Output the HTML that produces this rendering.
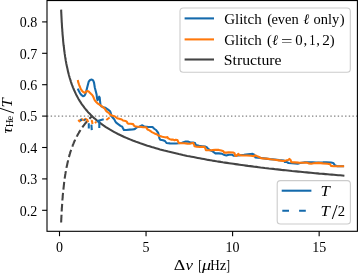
<!DOCTYPE html>
<html><head><meta charset="utf-8"><style>
html,body{margin:0;padding:0;background:#fff;}
svg{display:block;will-change:transform;}
.tg{opacity:0.999;}
.t{font-family:"Liberation Serif",serif;font-size:14px;fill:#000;}
</style></head><body>
<svg width="358" height="273" viewBox="0 0 358 273">
<rect width="358" height="273" fill="#fff"/>
<defs><clipPath id="ax"><rect x="47" y="0.5" width="310.4" height="230.8"/></clipPath></defs>
<line x1="47" y1="116.10" x2="357.4" y2="116.10" stroke="#808080" stroke-width="1.39" stroke-dasharray="1.39,2.29"/>
<g clip-path="url(#ax)" fill="none" stroke-linejoin="round" stroke-linecap="butt">
<polyline points="61.1,9.7 61.2,10.7 61.2,11.8 61.3,12.8 61.3,13.8 61.4,14.8 61.4,15.8 61.5,16.8 61.5,17.8 61.6,18.8 61.6,19.8 61.7,20.9 61.7,21.9 61.8,22.9 61.9,23.9 61.9,24.8 62.0,25.8 62.0,26.8 62.1,27.8 62.2,28.8 62.3,29.8 62.3,30.8 62.4,31.8 62.5,32.7 62.5,33.7 62.6,34.7 62.7,35.7 62.8,36.7 62.9,37.6 63.0,38.6 63.1,39.6 63.1,40.5 63.2,41.5 63.3,42.5 63.4,43.4 63.5,44.4 63.6,45.3 63.8,46.3 63.9,47.2 64.0,48.2 64.1,49.1 64.2,50.1 64.3,51.0 64.5,52.0 64.6,52.9 64.7,53.9 64.9,54.8 65.0,55.7 65.1,56.7 65.3,57.6 65.4,58.5 65.6,59.5 65.7,60.4 65.9,61.3 66.1,62.2 66.2,63.2 66.4,64.1 66.6,65.0 66.8,65.9 67.0,66.8 67.2,67.7 67.4,68.6 67.6,69.5 67.8,70.5 68.0,71.4 68.2,72.3 68.4,73.2 68.7,74.1 68.9,75.0 69.1,75.8 69.4,76.7 69.6,77.6 69.9,78.5 70.2,79.4 70.5,80.3 70.7,81.2 71.0,82.1 71.3,82.9 71.6,83.8 71.9,84.7 72.3,85.6 72.6,86.4 72.9,87.3 73.3,88.2 73.6,89.0 74.0,89.9 74.4,90.8 74.8,91.6 75.2,92.5 75.6,93.3 76.0,94.2 76.4,95.0 76.9,95.9 77.3,96.7 77.8,97.6 78.2,98.4 78.7,99.3 79.2,100.1 79.7,100.9 80.3,101.8 80.8,102.6 81.3,103.4 81.9,104.3 82.5,105.1 83.1,105.9 83.7,106.7 84.3,107.6 85.0,108.4 85.6,109.2 86.3,110.0 87.0,110.8 87.7,111.7 88.4,112.5 89.2,113.3 90.0,114.1 90.8,114.9 91.6,115.7 92.4,116.5 93.2,117.3 94.1,118.1 95.0,118.8 97.1,120.6 99.2,122.3 101.3,123.9 103.4,125.4 105.5,126.8 107.6,128.1 109.7,129.4 111.8,130.6 113.9,131.8 115.9,132.9 118.0,134.0 120.1,135.0 122.2,136.0 124.3,137.0 126.4,137.9 128.5,138.8 130.6,139.6 132.7,140.5 134.8,141.3 136.9,142.1 139.0,142.8 141.1,143.6 143.2,144.3 145.3,145.0 147.4,145.7 149.5,146.3 151.6,147.0 153.7,147.6 155.8,148.2 157.9,148.8 160.0,149.4 162.1,149.9 164.2,150.5 166.3,151.0 168.3,151.6 170.4,152.1 172.5,152.6 174.6,153.1 176.7,153.6 178.8,154.1 180.9,154.5 183.0,155.0 185.1,155.4 187.2,155.9 189.3,156.3 191.4,156.7 193.5,157.1 195.6,157.5 197.7,157.9 199.8,158.3 201.9,158.7 204.0,159.1 206.1,159.5 208.2,159.9 210.3,160.2 212.4,160.6 214.5,160.9 216.6,161.3 218.7,161.6 220.8,161.9 222.8,162.3 224.9,162.6 227.0,162.9 229.1,163.2 231.2,163.5 233.3,163.8 235.4,164.1 237.5,164.4 239.6,164.7 241.7,165.0 243.8,165.3 245.9,165.6 248.0,165.9 250.1,166.1 252.2,166.4 254.3,166.7 256.4,166.9 258.5,167.2 260.6,167.5 262.7,167.7 264.8,168.0 266.9,168.2 269.0,168.5 271.1,168.7 273.2,168.9 275.3,169.2 277.3,169.4 279.4,169.6 281.5,169.9 283.6,170.1 285.7,170.3 287.8,170.5 289.9,170.7 292.0,171.0 294.1,171.2 296.2,171.4 298.3,171.6 300.4,171.8 302.5,172.0 304.6,172.2 306.7,172.4 308.8,172.6 310.9,172.8 313.0,173.0 315.1,173.2 317.2,173.4 319.3,173.6 321.4,173.7 323.5,173.9 325.6,174.1 327.7,174.3 329.7,174.5 331.8,174.6 333.9,174.8 336.0,175.0 338.1,175.2 340.2,175.3 342.3,175.5 344.4,175.7" stroke="#444444" stroke-width="2.08"/>
<polyline points="61.1,222.5 61.2,221.5 61.2,220.5 61.3,219.5 61.3,218.5 61.4,217.5 61.4,216.5 61.5,215.5 61.5,214.6 61.6,213.6 61.6,212.6 61.7,211.6 61.7,210.6 61.8,209.7 61.8,208.7 61.9,207.7 62.0,206.7 62.0,205.8 62.1,204.8 62.2,203.8 62.2,202.9 62.3,201.9 62.4,200.9 62.4,200.0 62.5,199.0 62.6,198.1 62.7,197.1 62.7,196.2 62.8,195.2 62.9,194.3 63.0,193.3 63.1,192.4 63.2,191.4 63.3,190.5 63.4,189.6 63.5,188.6 63.6,187.7 63.7,186.8 63.8,185.8 63.9,184.9 64.0,184.0 64.1,183.0 64.2,182.1 64.3,181.2 64.4,180.3 64.6,179.3 64.7,178.4 64.8,177.5 65.0,176.6 65.1,175.7 65.2,174.8 65.4,173.9 65.5,173.0 65.7,172.1 65.9,171.2 66.0,170.3 66.2,169.4 66.3,168.5 66.5,167.6 66.7,166.7 66.9,165.8 67.1,164.9 67.3,164.0 67.5,163.1 67.7,162.2 67.9,161.3 68.1,160.5 68.3,159.6 68.5,158.7 68.7,157.8 69.0,157.0 69.2,156.1 69.5,155.2 69.7,154.3 70.0,153.5 70.2,152.6 70.5,151.7 70.8,150.9 71.1,150.0 71.4,149.2 71.7,148.3 72.0,147.5 72.3,146.6 72.6,145.8 72.9,144.9 73.3,144.1 73.6,143.2 74.0,142.4 74.3,141.5 74.7,140.7 75.1,139.9 75.5,139.0 75.9,138.2 76.3,137.4 76.7,136.5 77.2,135.7 77.6,134.9 78.1,134.0 78.6,133.2 79.0,132.4 79.5,131.6 80.0,130.8 80.6,130.0 81.1,129.1 81.6,128.3 82.2,127.5 82.8,126.7 83.4,125.9 84.0,125.1 84.6,124.3 85.2,123.5 85.9,122.7 86.5,121.9 87.2,121.1 87.9,120.3 88.6,119.5 89.4,118.7 90.1,118.0 90.9,117.2 91.7,116.4" stroke="#444444" stroke-width="2.08" stroke-dasharray="7.7,3.3"/>
<path d="M78.2,120.0 L79.7,121.4 L80.8,120.0 L81.9,119.2 L83.3,120.0 L84.4,120.2 L85.5,118.9 L87.4,120.0 L88.1,122.2 M91.2,120.3 L92.0,121.0 L92.5,124.0 M94.9,123.0 L96.4,121.9 M106.3,120.0 L109.6,117.5" stroke="#ff780b" stroke-width="2.08"/>
<path d="M80.4,118.9 L81.5,121.1 M84.1,119.2 L85.5,120.3 M88.8,123.3 L88.8,128.4 M91.4,124.7 L91.8,130.2 M97.1,121.5 L99.3,120.4 L103.7,119.3 M99.3,120.4 L99.3,128.0" stroke="#146aac" stroke-width="2.08"/>
<polyline points="77.8,88.7 78.6,90.5 80.0,93.1 81.3,94.9 83.0,96.2 84.4,95.8 85.2,94.5 86.1,91.8 87.0,88.3 87.9,84.8 88.7,81.7 90.1,80.0 91.8,79.5 93.1,80.4 94.0,82.5 94.8,87.5 95.7,91.0 96.6,94.5 97.0,98.1 97.5,100.3 98.4,98.5 99.2,96.7 99.7,97.5 100.1,101.6 100.5,105.1 101.4,106.4 103.2,107.3 104.5,107.5 105.8,108.0 106.9,108.8 108.4,109.9 109.9,111.0 110.6,112.5 111.2,115.0 111.8,116.5 113.5,118.5 114.3,119.4 115.4,121.6 116.8,123.2 118.8,124.6 120.5,125.8 122.2,126.7 123.0,128.3 123.9,130.0 126.4,130.0 129.7,129.6 132.7,129.4 134.3,129.2 135.2,128.8 137.0,127.3 139.4,126.8 140.2,126.2 142.3,125.3 143.6,126.2 145.0,126.6 148.5,127.0 152.5,127.0 153.5,128.0 154.6,129.0 156.1,130.0 157.3,131.6 158.2,132.9 159.0,136.2 159.4,138.3 160.2,139.8 163.0,140.3 165.0,141.0 166.5,143.0 170.0,143.4 174.0,143.5 176.0,143.5 179.0,143.3 182.0,142.8 185.7,141.6 188.3,141.6 190.3,142.5 192.9,142.5 195.0,142.9 195.8,145.0 199.1,145.8 202.0,146.2 205.4,146.6 207.0,147.5 207.9,148.4 210.0,150.3 212.1,150.9 213.7,152.2 215.4,153.4 218.8,153.4 222.1,153.8 224.6,155.1 226.3,155.5 228.8,154.7 232.0,154.7 233.4,155.6 236.0,155.8 240.0,155.2 244.0,154.8 248.0,154.2 252.7,153.9 254.3,154.6 255.3,157.5 258.0,157.6 261.4,158.0 266.0,158.6 270.0,159.1 274.8,159.5 279.0,160.1 284.0,160.5 284.8,162.0 286.5,161.8 288.5,163.0 292.0,163.3 297.7,163.8 300.0,163.0 305.0,162.2 309.5,162.3 312.8,162.4 316.0,162.5 319.4,162.5 322.9,162.4 326.5,162.2 331.0,162.5 333.2,162.9 334.1,164.1 335.0,165.4 336.9,166.1 344.0,166.3" stroke="#146aac" stroke-width="2.08"/>
<polyline points="77.8,80.0 78.2,82.2 79.1,84.8 80.0,87.0 80.8,89.2 82.2,91.0 83.5,92.3 84.8,92.7 86.1,91.8 87.4,91.0 88.7,91.4 89.6,92.5 90.9,93.8 92.2,95.0 93.1,96.3 94.0,98.5 94.8,100.3 96.2,102.0 97.5,103.3 98.8,104.2 100.1,105.1 101.9,106.4 103.0,107.2 104.0,108.0 105.1,109.1 105.8,110.6 106.9,111.7 108.0,112.4 109.1,113.2 109.9,114.3 111.0,115.0 112.5,115.8 115.0,116.5 117.2,118.3 120.1,119.0 121.8,119.5 123.0,120.5 125.5,121.0 126.8,121.6 127.4,123.0 128.0,123.6 130.6,123.7 133.1,124.1 134.0,125.6 134.8,126.2 137.3,126.7 139.8,126.7 141.5,126.9 143.1,127.2 144.8,127.2 146.5,127.6 147.3,129.3 148.1,129.7 149.4,130.4 150.6,131.2 151.9,132.1 153.5,132.9 155.2,133.7 156.5,134.2 157.7,135.0 159.0,135.8 160.7,136.2 162.3,136.7 164.0,137.1 166.1,137.5 167.4,137.1 168.2,138.3 169.9,139.2 171.1,139.6 173.2,139.6 174.5,140.2 175.7,139.7 177.4,140.0 178.2,141.6 178.6,142.9 180.7,143.1 184.1,143.3 187.4,143.6 189.9,143.7 191.6,143.3 193.3,142.9 194.1,144.6 194.5,146.2 196.6,146.7 200.0,146.9 204.5,146.9 205.4,148.4 205.8,150.1 208.7,150.2 212.1,150.1 215.4,149.9 218.8,149.9 221.3,150.5 223.4,151.3 224.2,152.6 226.3,152.6 228.8,152.4 233.4,152.5 234.6,153.4 235.0,155.5 236.3,155.9 238.0,154.2 238.4,153.8 239.2,155.1 242.6,155.5 246.8,155.5 251.0,155.7 253.9,156.2 255.0,155.4 256.5,155.8 258.0,156.6 259.7,157.2 261.0,158.2 263.0,158.4 266.4,158.6 270.6,159.3 274.8,159.7 279.0,160.4 283.1,161.0 285.7,160.6 288.1,160.1 289.4,158.9 290.6,160.1 291.4,162.2 294.4,162.4 298.6,162.6 302.8,162.7 307.0,162.6 308.6,163.4 311.1,163.8 313.7,163.2 318.5,162.9 322.9,163.4 327.4,163.8 330.1,164.1 331.0,165.9 333.7,166.3 339.0,166.3 344.2,166.2" stroke="#ff780b" stroke-width="2.08"/>
</g>
<rect x="47" y="0.55" width="310.4" height="230.75" fill="none" stroke="#000" stroke-width="1.1"/>
<line x1="42.1" y1="210.30" x2="47" y2="210.30" stroke="#000" stroke-width="1.1"/>
<line x1="42.1" y1="178.90" x2="47" y2="178.90" stroke="#000" stroke-width="1.1"/>
<line x1="42.1" y1="147.50" x2="47" y2="147.50" stroke="#000" stroke-width="1.1"/>
<line x1="42.1" y1="116.10" x2="47" y2="116.10" stroke="#000" stroke-width="1.1"/>
<line x1="42.1" y1="84.70" x2="47" y2="84.70" stroke="#000" stroke-width="1.1"/>
<line x1="42.1" y1="53.30" x2="47" y2="53.30" stroke="#000" stroke-width="1.1"/>
<line x1="42.1" y1="21.90" x2="47" y2="21.90" stroke="#000" stroke-width="1.1"/>
<line x1="59.50" y1="231.3" x2="59.50" y2="236.2" stroke="#000" stroke-width="1.1"/>
<line x1="146.05" y1="231.3" x2="146.05" y2="236.2" stroke="#000" stroke-width="1.1"/>
<line x1="232.60" y1="231.3" x2="232.60" y2="236.2" stroke="#000" stroke-width="1.1"/>
<line x1="319.15" y1="231.3" x2="319.15" y2="236.2" stroke="#000" stroke-width="1.1"/>
<rect x="180" y="8" width="170.3" height="64.2" rx="3.3" fill="#fff" fill-opacity="0.8" stroke="#cccccc" stroke-width="1.1"/>
<line x1="184.6" y1="18.4" x2="214" y2="18.4" stroke="#146aac" stroke-width="2.08"/>
<line x1="184.6" y1="39.4" x2="214" y2="39.4" stroke="#ff780b" stroke-width="2.08"/>
<line x1="184.6" y1="59.5" x2="214" y2="59.5" stroke="#444444" stroke-width="2.08"/>
<rect x="277.2" y="180.6" width="73.2" height="43.4" rx="3.3" fill="#fff" fill-opacity="0.8" stroke="#cccccc" stroke-width="1.1"/>
<line x1="281.7" y1="190.7" x2="311.4" y2="190.7" stroke="#146aac" stroke-width="2.08"/>
<line x1="282.3" y1="210.8" x2="311.4" y2="210.8" stroke="#146aac" stroke-width="2.08" stroke-dasharray="6.7,10.1"/>
<g class="tg">
<text x="37.3" y="215.65" text-anchor="end" class="t">0.2</text>
<text x="37.3" y="184.25" text-anchor="end" class="t">0.3</text>
<text x="37.3" y="152.85" text-anchor="end" class="t">0.4</text>
<text x="37.3" y="121.45" text-anchor="end" class="t">0.5</text>
<text x="37.3" y="90.05" text-anchor="end" class="t">0.6</text>
<text x="37.3" y="58.65" text-anchor="end" class="t">0.7</text>
<text x="37.3" y="27.25" text-anchor="end" class="t">0.8</text>
<text x="59.50" y="251.7" text-anchor="middle" class="t">0</text>
<text x="146.05" y="251.7" text-anchor="middle" class="t">5</text>
<text x="232.60" y="251.7" text-anchor="middle" class="t">10</text>
<text x="319.15" y="251.7" text-anchor="middle" class="t">15</text>
<text transform="translate(173.82,269.5) scale(1.28,1)" class="t" style="font-size:14px">Δ</text>
<text transform="translate(185.56,269.5) scale(1.2,1)" class="t" style="font-size:14px" font-style="italic">ν</text>
<text transform="translate(198.17,270.0) scale(0.75,1)" class="t" style="font-size:15px">[</text>
<text transform="translate(202.02,269.5) scale(1.29,1)" class="t" style="font-size:14px" font-style="italic">μ</text>
<text transform="translate(210.22,269.5) scale(0.94,1)" class="t" style="font-size:14px">H</text>
<text transform="translate(219.70,269.5) scale(1.07,1)" class="t" style="font-size:14px">z</text>
<text transform="translate(226.19,270.0) scale(0.75,1)" class="t" style="font-size:15px">]</text>
<text transform="translate(11.7,133.6) rotate(-90) scale(1.2,1)" class="t" style="font-size:14px"><tspan font-style="italic">τ</tspan></text>
<text transform="translate(13.0,127.3) rotate(-90) scale(1.1,1)" class="t" style="font-size:9.7px">H</text>
<text transform="translate(13.0,120.2) rotate(-90) scale(1.0,1)" class="t" style="font-size:9.7px">e</text>
<text transform="translate(13.9,113.4) rotate(-90) scale(1.05,1)" class="t" style="font-size:20px">/</text>
<text transform="translate(11.6,107.4) rotate(-90) scale(1.15,1)" class="t" style="font-size:14.5px"><tspan font-style="italic">T</tspan></text>
<text transform="translate(224.18,23.6) scale(1.0280,1)" class="t" style="font-size:14.6px">Glitch</text>
<text transform="translate(267.26,23.6) scale(1.0000,1)" class="t" style="font-size:14.6px">(</text>
<text transform="translate(271.43,23.6) scale(0.9937,1)" class="t" style="font-size:14.6px">even</text>
<text transform="translate(303.21,23.6) scale(0.9807,1)" class="t" style="font-size:14.6px" font-style="italic">ℓ</text>
<text transform="translate(313.45,23.6) scale(0.9904,1)" class="t" style="font-size:14.6px">only</text>
<text transform="translate(339.83,23.6) scale(1.0000,1)" class="t" style="font-size:14.6px">)</text>
<text transform="translate(224.18,44.5) scale(1.0280,1)" class="t" style="font-size:14.6px">Glitch</text>
<text transform="translate(266.96,44.5) scale(1.0000,1)" class="t" style="font-size:14.6px">(</text>
<text transform="translate(271.91,44.5) scale(0.9807,1)" class="t" style="font-size:14.6px" font-style="italic">ℓ</text>
<text transform="translate(280.88,45.5) scale(1.3983,1)" class="t" style="font-size:14.6px">=</text>
<text transform="translate(295.23,44.5) scale(1.0181,1)" class="t" style="font-size:14.6px">0</text>
<text transform="translate(303.44,44.5) scale(1.0000,1)" class="t" style="font-size:14.6px">,</text>
<text transform="translate(309.20,44.5) scale(0.8560,1)" class="t" style="font-size:14.6px">1</text>
<text transform="translate(316.24,44.5) scale(1.0000,1)" class="t" style="font-size:14.6px">,</text>
<text transform="translate(322.33,44.5) scale(1.0422,1)" class="t" style="font-size:14.6px">2</text>
<text transform="translate(329.63,44.5) scale(1.0000,1)" class="t" style="font-size:14.6px">)</text>
<text transform="translate(223.85,64.6) scale(1.0781,1)" class="t" style="font-size:14.6px">Structure</text>
<text transform="translate(320.61,195.7) scale(1.2,1)" class="t" style="font-size:14px" font-style="italic">T</text>
<text transform="translate(320.61,215.5) scale(1.2,1)" class="t" style="font-size:14px" font-style="italic">T</text>
<text transform="translate(331.80,218.6) scale(1.05,1)" class="t" style="font-size:20px">/</text>
<text transform="translate(337.85,215.5) scale(1.05,1)" class="t" style="font-size:14px">2</text>
</g>
</svg>
</body></html>
